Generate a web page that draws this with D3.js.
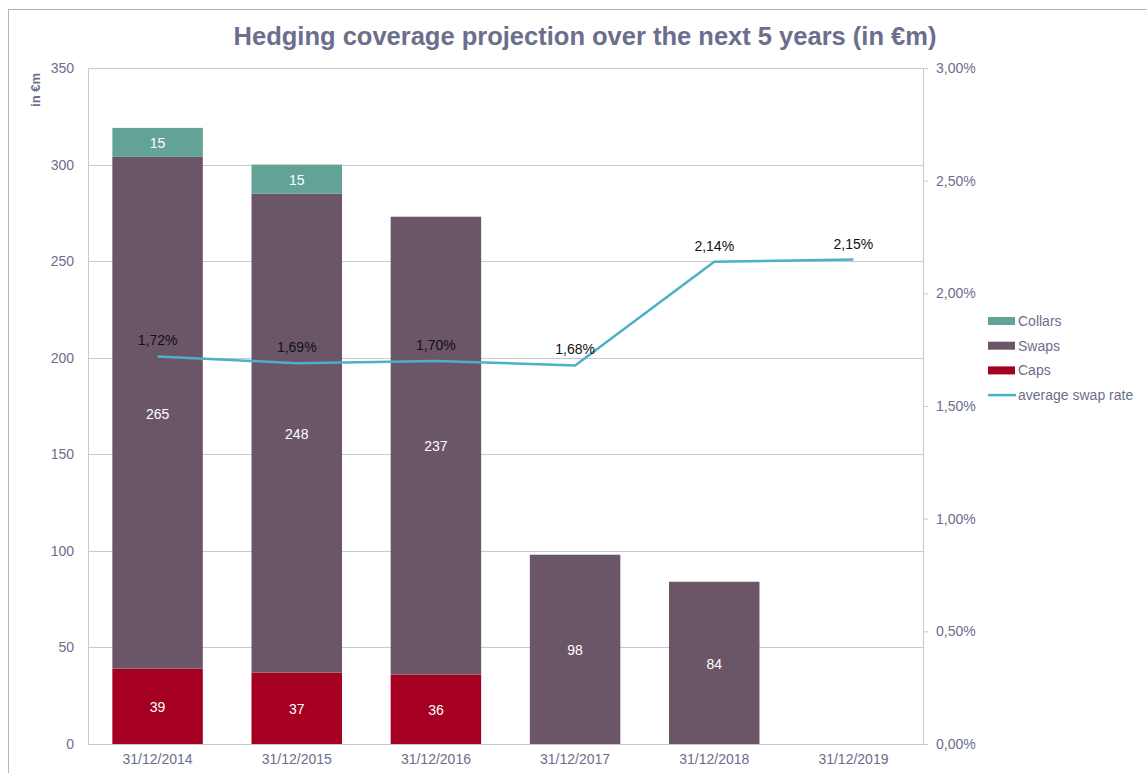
<!DOCTYPE html>
<html lang="en">
<head>
<meta charset="utf-8">
<title>Hedging coverage projection</title>
<script src="https://d3js.org/d3.v7.min.js"></script>
<style>
  body { margin: 0; background: #fff; }
  svg text { font-family: "Liberation Sans", "DejaVu Sans", sans-serif; }
</style>
</head>
<body>
<script>
// data
var dates = ["31/12/2014", "31/12/2015", "31/12/2016", "31/12/2017", "31/12/2018", "31/12/2019"];
var caps = [39, 37, 36, 0, 0, 0];
var swaps = [265, 248, 237, 98, 84, 0];
var collars = [15, 15, 0, 0, 0, 0];
var swapRate = [1.72, 1.69, 1.70, 1.68, 2.14, 2.15];
var leftTicks = [0, 50, 100, 150, 200, 250, 300, 350];
var rightTicks = [0, 0.5, 1, 1.5, 2, 2.5, 3];

var width = 1147, height = 773;
var margin = {left: 88, right: 224, top: 68, bottom: 29};
var axisColor = "#6b6e8c";
var gridColor = "#c8c8d4";

var svg = d3.select("body").append("svg")
    .attr("width", width)
    .attr("height", height);

// frame (only top and left edges are in view)
svg.append("rect")
    .attr("x", 8.5).attr("y", 9.5)
    .attr("width", 1400).attr("height", 1000)
    .attr("fill", "none")
    .attr("stroke", "#b4b4c6");

var x = d3.scaleBand()
    .domain(dates)
    .range([margin.left, width - margin.right])
    .paddingInner(0.35)
    .paddingOuter(0.175);

var y = d3.scaleLinear().domain([0, 350]).range([height - margin.bottom, margin.top]);
var y2 = d3.scaleLinear().domain([0, 3]).range([height - margin.bottom, margin.top]);

// gridlines
svg.append("g").selectAll("line")
    .data(leftTicks)
    .enter().append("line")
    .attr("x1", margin.left).attr("x2", width - margin.right)
    .attr("y1", function(d) { return Math.round(y(d)) + 0.5; })
    .attr("y2", function(d) { return Math.round(y(d)) + 0.5; })
    .attr("stroke", gridColor);

// stacked bars
var series = [
    {name: "Caps", values: caps, color: "#a50021"},
    {name: "Swaps", values: swaps, color: "#6b5667"},
    {name: "Collars", values: collars, color: "#62a395"}
];
var table = dates.map(function(d, i) {
    return {date: d, Caps: caps[i], Swaps: swaps[i], Collars: collars[i]};
});
var stack = d3.stack().keys(series.map(function(s) { return s.name; }))(table);

stack.forEach(function(layer, k) {
    var g = svg.append("g");
    var segs = layer.filter(function(d) { return d[1] - d[0] > 0; });
    g.selectAll("rect")
        .data(segs)
        .enter().append("rect")
        .attr("x", function(d) { return x(d.data.date); })
        .attr("width", x.bandwidth())
        .attr("y", function(d) { return y(d[1]); })
        .attr("height", function(d) { return y(d[0]) - y(d[1]); })
        .attr("fill", series[k].color);
    g.selectAll("text")
        .data(segs)
        .enter().append("text")
        .attr("x", function(d) { return x(d.data.date) + x.bandwidth() / 2; })
        .attr("y", function(d) { return (y(d[0]) + y(d[1])) / 2 + 1; })
        .attr("dy", "0.35em")
        .attr("text-anchor", "middle")
        .attr("fill", "#fff")
        .attr("font-size", 14)
        .text(function(d) { return d[1] - d[0]; });
});

// axes
var bottom = svg.append("g")
    .attr("transform", "translate(0," + (height - margin.bottom) + ")")
    .call(d3.axisBottom(x).tickSize(0).tickPadding(10));
bottom.select(".domain").attr("stroke", gridColor);
bottom.selectAll("text").attr("fill", axisColor).attr("font-size", 14);

var left = svg.append("g")
    .attr("transform", "translate(" + margin.left + ",0)")
    .call(d3.axisLeft(y).tickValues(leftTicks).tickSize(0).tickPadding(14));
left.select(".domain").attr("stroke", gridColor);
left.selectAll("text").attr("fill", axisColor).attr("font-size", 14);

var fmtPct = function(v) { return d3.format(".2f")(v).replace(".", ",") + "%"; };
var right = svg.append("g")
    .attr("transform", "translate(" + (width - margin.right) + ",0)")
    .call(d3.axisRight(y2).tickValues(rightTicks).tickSize(5).tickPadding(8).tickFormat(fmtPct));
right.select(".domain").attr("stroke", gridColor);
right.selectAll("line").attr("stroke", gridColor);
right.selectAll("text").attr("fill", axisColor).attr("font-size", 14);

// swap rate line
var line = d3.line()
    .x(function(d, i) { return x(dates[i]) + x.bandwidth() / 2; })
    .y(function(d) { return y2(d); });
svg.append("path")
    .datum(swapRate)
    .attr("d", line)
    .attr("fill", "none")
    .attr("stroke", "#4bb0c8")
    .attr("stroke-width", 2.5);

svg.append("g").selectAll("text")
    .data(swapRate)
    .enter().append("text")
    .attr("x", function(d, i) { return x(dates[i]) + x.bandwidth() / 2; })
    .attr("y", function(d) { return y2(d) - 11; })
    .attr("text-anchor", "middle")
    .attr("fill", "#111")
    .attr("font-size", 14)
    .text(fmtPct);

// title and unit label
svg.append("text")
    .attr("x", 585).attr("y", 45)
    .attr("text-anchor", "middle")
    .attr("fill", axisColor)
    .attr("font-size", 25.5)
    .attr("font-weight", "bold")
    .text("Hedging coverage projection over the next 5 years (in €m)");

svg.append("text")
    .attr("transform", "translate(40,90) rotate(-90)")
    .attr("text-anchor", "middle")
    .attr("fill", axisColor)
    .attr("font-size", 13)
    .attr("font-weight", "bold")
    .text("in €m");

// legend
var legendItems = [
    {name: "Collars", color: "#62a395", type: "box"},
    {name: "Swaps", color: "#6b5667", type: "box"},
    {name: "Caps", color: "#a50021", type: "box"},
    {name: "average swap rate", color: "#4bb0c8", type: "line"}
];
var legend = svg.append("g").attr("transform", "translate(988,321)");
legendItems.forEach(function(item, i) {
    var g = legend.append("g").attr("transform", "translate(0," + (i * 24.7) + ")");
    if (item.type === "box") {
        g.append("rect").attr("x", 0).attr("y", -4).attr("width", 27).attr("height", 8).attr("fill", item.color);
    } else {
        g.append("line").attr("x1", 0).attr("x2", 28).attr("y1", 0).attr("y2", 0)
            .attr("stroke", item.color).attr("stroke-width", 2.5);
    }
    g.append("text")
        .attr("x", 30).attr("y", 0).attr("dy", "0.35em")
        .attr("fill", axisColor)
        .attr("font-size", 14)
        .text(item.name);
});
</script>
</body>
</html>
